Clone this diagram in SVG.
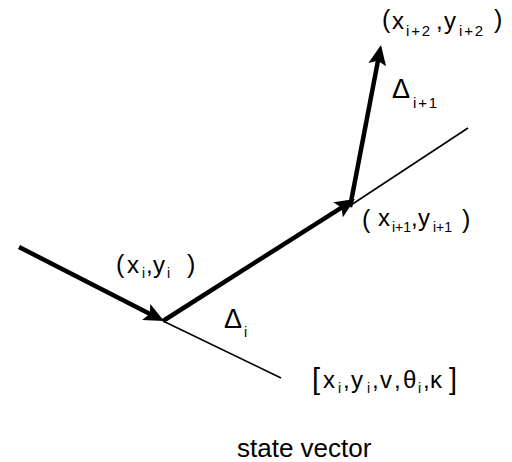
<svg xmlns="http://www.w3.org/2000/svg" width="512" height="462" viewBox="0 0 512 462">
<style>
.thick{stroke:#000;stroke-width:4.5;fill:none;marker-end:url(#ah)}
.thin{stroke:#000;stroke-width:1.6;fill:none}
text{font-family:"Liberation Sans",Arial,sans-serif;fill:#000}
.m{font-size:24px}
.s{font-size:14px}
.w{font-size:15px;letter-spacing:1.8px}
.p{font-size:25px}
.d{font-size:27px}
.b{font-size:29px}
</style>
<defs>
<marker id="ah" markerUnits="userSpaceOnUse" viewBox="0 0 20 18" markerWidth="20" markerHeight="18" refX="12" refY="9" orient="auto">
<path d="M0,0 L20,9 L0,18 L4,9 z" fill="#000"/>
</marker>
</defs>
<rect width="512" height="462" fill="#fff"/>
<g id="connectors">
<line class="thin" x1="163" y1="321" x2="281" y2="378"/>
<line class="thin" x1="348" y1="207" x2="468" y2="128"/>
<line class="thick" x1="19" y1="247" x2="156.9" y2="317.4"/>
<line class="thick" x1="163" y1="321" x2="348.2" y2="203.3"/>
<line class="thick" x1="350" y1="207" x2="379.5" y2="52.9"/>
</g>
<g id="label-p2">
<text class="p" x="382" y="28">(</text>
<text class="m" x="392" y="29">x</text>
<text class="w" x="406" y="36">i+2</text>
<text class="m" x="436" y="29">,</text>
<text class="m" x="444" y="29">y</text>
<text class="w" x="459" y="36">i+2</text>
<text class="p" x="494" y="28">)</text>
</g>
<g id="label-p1">
<text class="p" x="362" y="228">(</text>
<text class="m" x="378" y="226">x</text>
<text class="s" x="392" y="232">i+1</text>
<text class="m" x="411" y="226">,</text>
<text class="m" x="418" y="226">y</text>
<text class="s" x="433" y="232">i+1</text>
<text class="p" x="462" y="228">)</text>
</g>
<g id="label-p0">
<text class="p" x="116" y="273">(</text>
<text class="m" x="127" y="273">x</text>
<text class="s" x="142" y="278">i</text>
<text class="m" x="146" y="273">,</text>
<text class="m" x="153" y="273">y</text>
<text class="s" x="167" y="278">i</text>
<text class="p" x="187" y="273">)</text>
</g>
<g id="label-delta-i">
<text class="d" x="224" y="328">Δ</text>
<text class="s" x="244" y="337">i</text>
</g>
<g id="label-delta-i1">
<text class="d" x="392" y="98">Δ</text>
<text class="w" x="413" y="108">i+1</text>
</g>
<g id="state">
<text class="b" x="312" y="389">[</text>
<text class="m" x="323" y="388">x</text>
<text class="s" x="338" y="393">i</text>
<text class="m" x="343" y="388">,</text>
<text class="m" x="351" y="388">y</text>
<text class="s" x="367" y="393">i</text>
<text class="m" x="372" y="388">,</text>
<text class="m" x="380" y="388">v</text>
<text class="m" x="394" y="388">,</text>
<text class="m" x="403" y="388">θ</text>
<text class="s" x="418" y="393">i</text>
<text class="m" x="423" y="388">,</text>
<text class="m" x="430" y="388">κ</text>
<text class="b" x="449" y="389">]</text>
</g>
<g id="state-vector-label">
<text x="237" y="457" font-size="26">state vector</text>
</g>
</svg>
